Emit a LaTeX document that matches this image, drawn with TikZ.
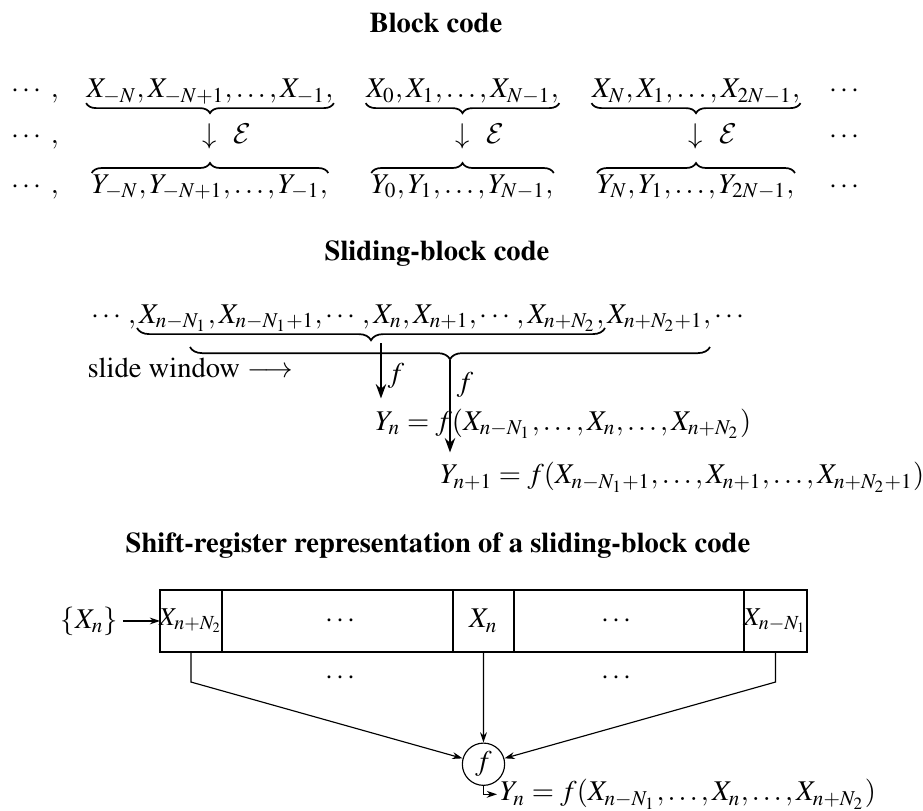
\documentclass[tikz,border=0pt]{standalone}
\usepackage[T1]{fontenc}
\usepackage{mathptmx}
\usepackage{amsmath}
\DeclareMathAlphabet{\mathcal}{OMS}{cmsy}{m}{n}
\usetikzlibrary{decorations.pathreplacing,positioning,arrows.meta}

\begin{document}
\begin{tikzpicture}[>={Stealth[length=3.6pt,width=2.4pt]},
  ubrace/.style={decorate,decoration={brace,mirror,amplitude=3.5pt},semithick},
  obrace/.style={decorate,decoration={brace,amplitude=3.5pt},semithick},
  wbrace/.style={decorate,decoration={brace,mirror,amplitude=4.3pt},semithick},
  slide/.style={-{Stealth[length=5pt,width=3.6pt]},thick},
  cell/.style={draw,inner sep=0pt,outer sep=0pt,minimum height=0.763cm},
  title/.style={anchor=base,font=\bfseries}]
\useasboundingbox (0,0) rectangle (11.353,-9.975);
\begin{scope}
\node[title] (t1) at (5.363,-0.394) {Block code};
\node[anchor=base] (l1) at (0.43,-1.205) {$\cdots\;,$};
\node[anchor=base] (l2) at (0.43,-1.759) {$\cdots\;,$};
\node[anchor=base] (l3) at (0.43,-2.374) {$\cdots\;,$};
\node[anchor=base,inner sep=0pt] (x1) at (2.583,-1.205) {$X_{-N},X_{-N+1},\ldots,X_{-1},$};
\node[anchor=base,inner sep=0pt] (x2) at (5.689,-1.205) {$X_0,X_1,\ldots,X_{N-1},$};
\node[anchor=base,inner sep=0pt] (x3) at (8.561,-1.205) {$X_N,X_1,\ldots,X_{2N-1},$};
\node[anchor=base,inner sep=0pt] (y1) at (2.583,-2.374) {$Y_{-N},Y_{-N+1},\ldots,Y_{-1},$};
\node[anchor=base,inner sep=0pt] (y2) at (5.689,-2.374) {$Y_0,Y_1,\ldots,Y_{N-1},$};
\node[anchor=base,inner sep=0pt] (y3) at (8.561,-2.374) {$Y_N,Y_1,\ldots,Y_{2N-1},$};
\draw[ubrace] ([yshift=-1.8pt]x1.base west) -- ([yshift=-1.8pt]x1.base east);
\draw[ubrace] ([yshift=-1.8pt]x2.base west) -- ([yshift=-1.8pt]x2.base east);
\draw[ubrace] ([yshift=-1.8pt]x3.base west) -- ([yshift=-1.8pt]x3.base east);
\draw[obrace] ([yshift=7pt]y1.base west) -- ([yshift=7pt]y1.base east);
\draw[obrace] ([yshift=7pt]y2.base west) -- ([yshift=7pt]y2.base east);
\draw[obrace] ([yshift=7pt]y3.base west) -- ([yshift=7pt]y3.base east);
\node[anchor=base] (a1) at (2.583,-1.759) {$\downarrow$};
\node[anchor=base] (a2) at (5.689,-1.759) {$\downarrow$};
\node[anchor=base] (a3) at (8.561,-1.759) {$\downarrow$};
\node[anchor=base west,inner sep=0pt] (e1) at (2.866,-1.759) {$\mathcal{E}$};
\node[anchor=base west,inner sep=0pt] (e2) at (5.972,-1.759) {$\mathcal{E}$};
\node[anchor=base west,inner sep=0pt] (e3) at (8.844,-1.759) {$\mathcal{E}$};
\node[anchor=base] (r1) at (10.406,-1.205) {$\cdots$};
\node[anchor=base] (r2) at (10.406,-1.759) {$\cdots$};
\node[anchor=base] (r3) at (10.406,-2.374) {$\cdots$};
\end{scope}
\begin{scope}
\node[title] (t2) at (5.375,-3.198) {Sliding-block code};
\node[anchor=base] (seq) at (5.16,-3.973)
  {$\cdots,X_{n-N_1},X_{n-N_1+1},\cdots,X_n,X_{n+1},\cdots,X_{n+N_2},X_{n+N_2+1},\cdots$};
\draw[wbrace] (1.685,-4.034) -- (7.442,-4.034);
\draw[wbrace] (2.337,-4.268) -- (8.733,-4.268);
\coordinate (tip1) at (4.686,-4.219);
\coordinate (tip2) at (5.535,-4.428);
\node[anchor=base west] (win) at (0.953,-4.649) {slide window $\longrightarrow$};
\node[anchor=base west] (yn) at (4.496,-5.289)
  {$Y_n = f(X_{n-N_1},\ldots,X_n,\ldots,X_{n+N_2})$};
\node[anchor=base west] (yn1) at (5.295,-5.953)
  {$Y_{n+1} = f(X_{n-N_1+1},\ldots,X_{n+1},\ldots,X_{n+N_2+1})$};
\draw[slide] (tip1) -- (tip1 |- yn.north) node[pos=0.6,right,inner sep=2pt] (f1) {$f$};
\draw[slide] (tip2) -- (tip2 |- yn1.north) node[pos=0.27,right,inner sep=2pt] (f2) {$f$};
\end{scope}
\begin{scope}
\node[title] (t3) at (5.387,-6.79) {Shift-register representation of a sliding-block code};
\node[cell,minimum width=0.763cm] (c1) at (2.349,-7.638) {};
\node[cell,minimum width=2.841cm,right=0pt of c1] (c2) {};
\node[cell,minimum width=0.750cm,right=0pt of c2] (c3) {};
\node[cell,minimum width=2.829cm,right=0pt of c3] (c4) {};
\node[cell,minimum width=0.775cm,right=0pt of c4] (c5) {};
\node[inner sep=0pt,font=\small] (v1) at (c1) {$X_{n+N_2}$};
\node[inner sep=0pt] (v3) at (c3) {$X_n$};
\node[inner sep=0pt,font=\small] (v5) at (c5) {$X_{n-N_1}$};
\node (d1) at (4.207,-7.638) {$\cdots$};
\node (d2) at (7.601,-7.638) {$\cdots$};
\node (d3) at (4.207,-8.339) {$\cdots$};
\node (d4) at (7.601,-8.339) {$\cdots$};
\node[inner sep=1.5pt] (in) at (1.1,-7.638) {$\{X_n\}$};
\node[draw,circle,inner sep=0pt,minimum size=0.52cm] (f) at (5.947,-9.4) {$f$};
\node[anchor=west,inner sep=1pt] (out) at (6.113,-9.77)
  {$Y_n = f(X_{n-N_1},\ldots,X_n,\ldots,X_{n+N_2})$};
\coordinate (k1) at (2.349,-8.389);
\coordinate (k5) at (9.539,-8.389);
\draw[->] (in) -- (c1);
\draw[->] (c1.south) -- (k1) -- (f);
\draw[->] (c3.south) -- (f);
\draw[->] (c5.south) -- (k5) -- (f);
\draw[->] (f.south) |- (out.west);
\end{scope}
\end{tikzpicture}
\end{document}
